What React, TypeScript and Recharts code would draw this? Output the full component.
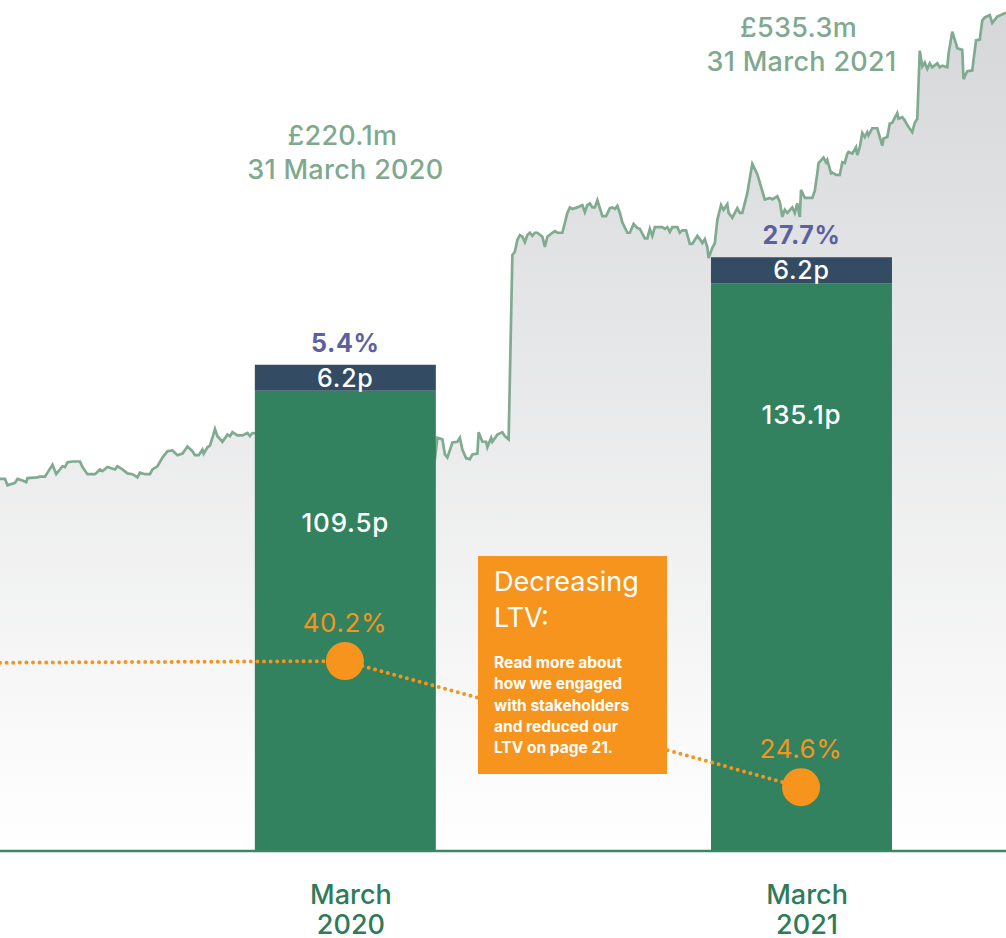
import React from 'react';
import { ComposedChart, Area, Bar, Line, XAxis, YAxis, LabelList, ReferenceLine } from 'recharts';

const FONT = 'Inter, "Open Sans", "DejaVu Sans", sans-serif';

// Market capitalisation (£m) – days since start of the displayed period
const marketCapDays = [
  0, 4, 6, 12, 14, 18, 21, 22, 30, 32, 36, 38, 42, 45, 50, 52, 54, 58, 64, 66, 70, 76, 80, 82, 86, 92, 94, 98,
  102, 106, 110, 112, 116, 120, 122, 126, 130, 134, 138, 142, 146, 150, 154, 156, 159, 162, 163, 166, 168, 170,
  172, 174, 178, 182, 184, 186, 190, 194, 198, 200, 202, 276, 348, 350, 354, 356, 358, 362, 366, 368, 370, 373,
  376, 378, 382, 383, 386, 389, 390, 393, 394, 398, 402, 404, 407, 410, 412, 414, 416, 418, 420, 422, 424, 426,
  428, 430, 434, 436, 438, 442, 444, 446, 450, 454, 456, 458, 462, 466, 468, 470, 472, 474, 476, 478, 480, 482,
  485, 488, 490, 492, 494, 496, 498, 502, 504, 507, 510, 512, 516, 518, 520, 522, 524, 530, 532, 534, 536, 538,
  542, 544, 546, 549, 552, 554, 558, 560, 562, 564, 566, 567, 570, 572, 574, 577, 579, 582, 583, 586, 590, 592,
  594, 598, 600, 602, 606, 609, 612, 616, 618, 622, 624, 626, 628, 630, 634, 636, 638, 640, 641, 644, 650, 652,
  654, 655, 659, 661, 662, 665, 666, 669, 672, 674, 676, 678, 679, 682, 685, 686, 688, 690, 692, 694, 695, 698,
  702, 706, 707, 710, 712, 714, 718, 719, 722, 724, 726, 730, 732, 734, 736, 738, 740, 742, 744, 746, 750, 752,
  754, 758, 759, 762, 765, 766, 770, 771, 774, 778, 781, 784, 786, 788, 792, 794, 798, 805,
];
const marketCapValues = [
  170, 170, 162, 165, 170, 168, 166, 171, 172, 173, 173, 178, 188, 176, 186, 185, 191, 192, 192, 185, 176, 176, 182, 180, 185, 182, 186, 182,
  177, 176, 172, 178, 176, 176, 182, 186, 197, 205, 206, 200, 202, 211, 205, 200, 200, 207, 202, 210, 212, 222,
  233, 224, 217, 226, 224, 229, 225, 225, 228, 224, 228, 220.1, 195, 222, 220, 201, 197, 216, 217, 222, 207, 196,
  195, 201, 202, 229, 217, 217, 210, 222, 217, 226, 229, 224, 220, 453, 457, 472, 478, 476, 469, 478, 481, 477,
  481, 481, 476, 463, 476, 481, 483, 481, 481, 506, 513, 511, 513, 516, 507, 516, 518, 513, 513, 522, 512, 502,
  502, 512, 513, 511, 515, 506, 494, 481, 481, 492, 487, 486, 474, 474, 486, 477, 488, 488, 486, 488, 482, 488,
  488, 481, 484, 484, 467, 467, 477, 473, 468, 473, 463, 449, 462, 468, 497, 516, 510, 517, 506, 500, 512, 506,
  506, 531, 550, 568, 555, 539, 523, 525, 523, 527, 520, 501, 510, 506, 513, 506, 518, 501, 535.3, 525, 525, 534,
  556, 569, 576, 570, 573, 556, 557, 554, 554, 570, 569, 581, 583, 581, 589, 579, 589, 607, 602, 608, 604, 613,
  613, 591, 600, 602, 619, 620, 632, 625, 627, 623, 617, 608, 620, 625, 711, 691, 696, 688, 695, 690, 695, 690,
  692, 690, 707, 735, 720, 714, 712, 675, 685, 686, 724, 725, 749, 753, 756, 746, 754, 759,
];

// Year-end bars (31 March 2020, 31 March 2021)
const barDays = [276, 641];
const periodLabels = [['March', '2020'], ['March', '2021']];
const navPerShare = [109.5, 135.1];
const dividends = [6.2, 6.2];
const totalReturn = [5.4, 27.7];
const marketCapYearEnd = [220.1, 535.3];
const yearEndDates = ['31 March 2020', '31 March 2021'];

// Loan to value (%)
const ltvDays = [0, 276, 641];
const ltvValues = [40.0, 40.2, 24.6];
const ltvShown = [false, true, true];

const DOMAIN_DAYS: [number, number] = [0, 805];

const mcapData = marketCapDays.map((day, i) => ({ day, mcap: marketCapValues[i] }));

const barData = barDays.map((day, b) => ({
  day,
  nav: navPerShare[b],
  div: dividends[b],
  navLabel: `${navPerShare[b].toFixed(1)}p`,
  divLabel: `${dividends[b].toFixed(1)}p`,
  retLabel: `${totalReturn[b].toFixed(1)}%`,
  mcapLabel: `£${marketCapYearEnd[b].toFixed(1)}m`,
  dateLabel: yearEndDates[b],
}));

const ltvData = ltvDays.map((day, i) => ({
  day,
  ltv: ltvValues[i],
  ltvLabel: ltvShown[i] ? `${ltvValues[i].toFixed(1)}%` : '',
}));

const ORANGE = '#f7941d';

const box = (p: any) => {
  const vb = p.viewBox || {};
  return {
    x: vb.x ?? p.x,
    y: vb.y ?? p.y,
    w: vb.width ?? p.width ?? 0,
  };
};

const mk = (dy: number, fill: string, size: number, weight: number, ls: number, dx = 0) => (p: any) => {
  if (p.value == null || p.value === '') return null;
  const { x, y, w } = box(p);
  return (
    <text x={x + w / 2 + dx} y={y + dy} textAnchor="middle" fill={fill} fontSize={size} fontWeight={weight} letterSpacing={ls}>
      {p.value}
    </text>
  );
};

const navLabel = mk(141, '#ffffff', 26, 500, 0.8);
const divLabel = mk(22, '#ffffff', 25, 500, 0.8);
const retLabel = mk(-13, '#5b61a0', 25, 700, 0.6);
const mcapLabel = mk(-220, '#7fa98f', 27, 500, 0.3, -3);
const dateLabel = mk(-186, '#7fa98f', 27, 500, 0.3);

const ltvLabel = (p: any) => {
  if (p.value == null || p.value === '') return null;
  const { x, y } = box(p);
  return (
    <text x={x} y={y - 29} textAnchor="middle" fill={ORANGE} fontSize={26} fontWeight={400} letterSpacing={0.6}>
      {p.value}
    </text>
  );
};

const ltvDot = (p: any) => {
  if (p.cy == null || !p.payload || !p.payload.ltvLabel) return <g key={`d-${p.index}`} />;
  return <circle key={`d-${p.index}`} cx={p.cx} cy={p.cy} r={19} fill={ORANGE} />;
};

const PeriodTick = (p: any) => {
  const i = barDays.indexOf(p.payload?.value);
  if (i < 0) return null;
  const [a, b] = periodLabels[i];
  return (
    <g>
      <text x={p.x + 6} y={p.y + 45} textAnchor="middle" fill="#2f7b58" fontSize={27} fontWeight={500}>{a}</text>
      <text x={p.x + 6} y={p.y + 75} textAnchor="middle" fill="#2f7b58" fontSize={27} fontWeight={500}>{b}</text>
    </g>
  );
};

export default function App() {
  return (
    <div style={{ position: 'absolute', left: 0, top: 0, width: 1006, height: 938, background: '#ffffff', fontFamily: FONT, overflow: 'hidden' }}>
      <ComposedChart width={1006} height={938} data={barData} margin={{ top: 0, right: 0, bottom: 0, left: 0 }}>
        <defs>
          <linearGradient id="mcapFill" x1="0" y1="0" x2="0" y2="1">
            <stop offset="0%" stopColor="#d6d7d9" />
            <stop offset="100%" stopColor="#ffffff" />
          </linearGradient>
        </defs>
        <XAxis
          xAxisId="time"
          dataKey="day"
          type="number"
          domain={DOMAIN_DAYS}
          allowDataOverflow
          ticks={barDays}
          interval={0}
          axisLine={false}
          tickLine={false}
          height={87}
          tick={<PeriodTick />}
        />
        <XAxis xAxisId="bars" dataKey="day" type="number" domain={DOMAIN_DAYS} allowDataOverflow hide height={0} />
        <YAxis yAxisId="mcap" hide domain={[-300, 775]} allowDataOverflow />
        <YAxis yAxisId="nav" hide domain={[0, 202.5]} allowDataOverflow />
        <YAxis yAxisId="ltv" hide domain={[16.7, 122]} allowDataOverflow />
        <Area
          data={mcapData}
          xAxisId="time"
          yAxisId="mcap"
          dataKey="mcap"
          type="linear"
          stroke="#80ab90"
          strokeWidth={2.7}
          fill="url(#mcapFill)"
          fillOpacity={1}
          baseValue={-300}
          dot={false}
          activeDot={false}
          isAnimationActive={false}
        />
        <Bar xAxisId="bars" yAxisId="nav" dataKey="nav" stackId="s" fill="#33825f" barSize={181} isAnimationActive={false}>
          <LabelList dataKey="navLabel" content={navLabel} />
        </Bar>
        <Bar xAxisId="bars" yAxisId="nav" dataKey="div" stackId="s" fill="#334c63" barSize={181} isAnimationActive={false}>
          <LabelList dataKey="divLabel" content={divLabel} />
          <LabelList dataKey="retLabel" content={retLabel} />
          <LabelList dataKey="mcapLabel" content={mcapLabel} />
          <LabelList dataKey="dateLabel" content={dateLabel} />
        </Bar>
        <ReferenceLine xAxisId="time" yAxisId="nav" y={0} stroke="#3a8764" strokeWidth={2.5} />
        <Line
          data={ltvData}
          xAxisId="time"
          yAxisId="ltv"
          dataKey="ltv"
          type="linear"
          stroke={ORANGE}
          strokeWidth={4}
          strokeDasharray="0 6.6"
          strokeLinecap="round"
          dot={ltvDot}
          activeDot={false}
          isAnimationActive={false}
        >
          <LabelList dataKey="ltvLabel" content={ltvLabel} />
        </Line>
      </ComposedChart>
      <div
        style={{
          position: 'absolute',
          left: 478,
          top: 556,
          width: 189,
          height: 218,
          background: ORANGE,
          color: '#ffffff',
          boxSizing: 'border-box',
          padding: '8px 8px 0 16px',
        }}
      >
        <div style={{ fontSize: 27, lineHeight: '36px', fontWeight: 400 }}>Decreasing<br />LTV:</div>
        <div style={{ fontSize: 15.5, lineHeight: '21.3px', fontWeight: 700, marginTop: 16 }}>
          Read more about<br />how we engaged<br />with stakeholders<br />and reduced our<br />LTV on page 21.
        </div>
      </div>
    </div>
  );
}
